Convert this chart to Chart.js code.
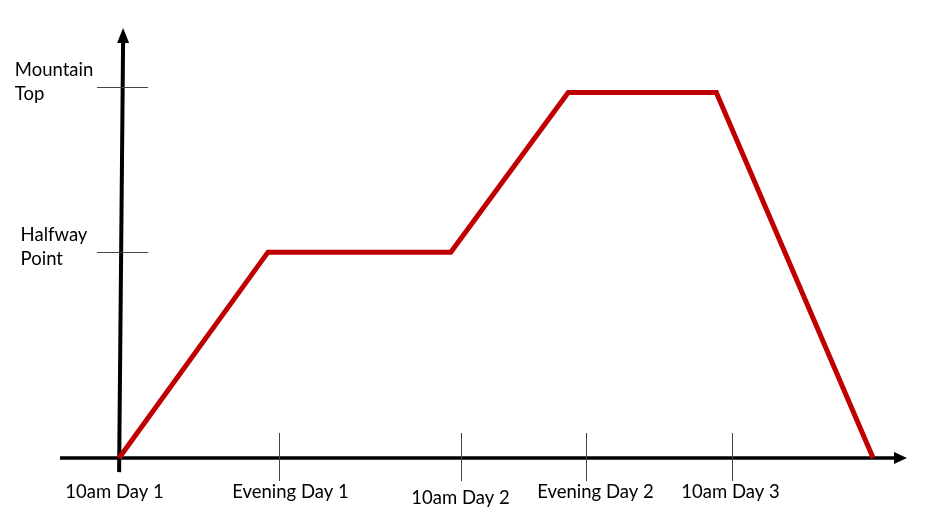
<!DOCTYPE html>
<html><head><meta charset="utf-8">
<script src="https://cdn.jsdelivr.net/npm/chart.js@4.4.1/dist/chart.umd.min.js"></script>
<style>html,body{margin:0;padding:0;background:#fff;overflow:hidden;}</style>
</head><body>
<canvas id="c" width="925" height="516"></canvas>
<script>
// Data (arbitrary position units)
const xTickLabels = ['10am Day 1', 'Evening Day 1', '10am Day 2', 'Evening Day 2', '10am Day 3'];
const xTickPositions = [0, 20.3, 43.4, 59.3, 77.8];
const yTickLabels = [['Halfway', 'Point'], ['Mountain', 'Top']];
const yTickPositions = [48.1, 86.7];
const routeX = [0, 18.9, 42.1, 57.0, 75.8, 95.7];
const routeY = [0, 48.1, 48.1, 85.4, 85.4, 0];

const FONT = '18.5px Lato, "Liberation Sans", sans-serif';

const axesPlugin = {
  id: 'handAxes',
  beforeDatasetsDraw(chart) {
    const ctx = chart.ctx;
    const xs = chart.scales.x, ys = chart.scales.y;
    const ca = chart.chartArea;
    const x0 = xs.getPixelForValue(0);
    const y0 = ys.getPixelForValue(0);
    ctx.save();
    // x axis
    ctx.strokeStyle = '#000';
    ctx.fillStyle = '#000';
    ctx.lineWidth = 3.5;
    ctx.beginPath();
    ctx.moveTo(ca.left, y0);
    ctx.lineTo(ca.right - 12, y0);
    ctx.stroke();
    ctx.beginPath();
    ctx.moveTo(ca.right, y0);
    ctx.lineTo(ca.right - 13, y0 - 6);
    ctx.lineTo(ca.right - 13, y0 + 6);
    ctx.closePath();
    ctx.fill();
    // y axis (slightly tilted like the sketch)
    const yBottom = ys.getPixelForValue(-3.3);
    const topX = x0 + 4;
    ctx.lineWidth = 4;
    ctx.beginPath();
    ctx.moveTo(x0, yBottom);
    ctx.lineTo(topX, ca.top + 12);
    ctx.stroke();
    ctx.beginPath();
    ctx.moveTo(topX, ca.top - 2);
    ctx.lineTo(topX - 6, ca.top + 13);
    ctx.lineTo(topX + 6, ca.top + 13);
    ctx.closePath();
    ctx.fill();

    // x ticks
    const labelNudgeX = [-5, 11, -1, 9, -2];
    const labelNudgeY = [0, 0, 6, 0, 0];
    ctx.strokeStyle = '#444';
    ctx.lineWidth = 1;
    ctx.font = FONT;
    ctx.textAlign = 'center';
    ctx.textBaseline = 'middle';
    xTickPositions.forEach((v, i) => {
      const px = Math.round(xs.getPixelForValue(v)) + 0.5;
      if (i > 0) {
        ctx.beginPath();
        ctx.moveTo(px, y0 - 25);
        ctx.lineTo(px, y0 + 23);
        ctx.stroke();
      }
      ctx.fillStyle = '#000';
      ctx.fillText(xTickLabels[i], px + labelNudgeX[i], y0 + 34 + labelNudgeY[i]);
    });

    // y ticks
    ctx.textAlign = 'left';
    yTickPositions.forEach((v, i) => {
      const py = Math.round(ys.getPixelForValue(v)) + 0.5;
      ctx.strokeStyle = '#444';
      ctx.beginPath();
      ctx.moveTo(x0 - 22, py);
      ctx.lineTo(x0 + 29, py);
      ctx.stroke();
      const lines = yTickLabels[i];
      const w = Math.max(...lines.map(l => ctx.measureText(l).width));
      const left = 54 - w / 2;
      ctx.fillStyle = '#000';
      lines.forEach((l, j) => {
        ctx.fillText(l, left, py - 17 + j * 24);
      });
    });
    ctx.restore();
  }
};

new Chart(document.getElementById('c'), {
  type: 'line',
  data: {
    datasets: [{
      data: routeX.map((x, i) => ({ x: x, y: routeY[i] })),
      borderColor: '#C00000',
      borderWidth: 5,
      pointRadius: 0,
      tension: 0,
      fill: false,
      clip: false,
      borderJoinStyle: 'miter',
      borderCapStyle: 'butt'
    }]
  },
  options: {
    responsive: false,
    animation: false,
    devicePixelRatio: 1,
    layout: { padding: { left: 60, right: 18, top: 30, bottom: 58 } },
    plugins: { legend: { display: false }, tooltip: { enabled: false } },
    scales: {
      x: { type: 'linear', min: -7.5, max: 100, display: false },
      y: { type: 'linear', min: 0, max: 100, display: false }
    }
  },
  plugins: [axesPlugin]
});
</script>
</body></html>
